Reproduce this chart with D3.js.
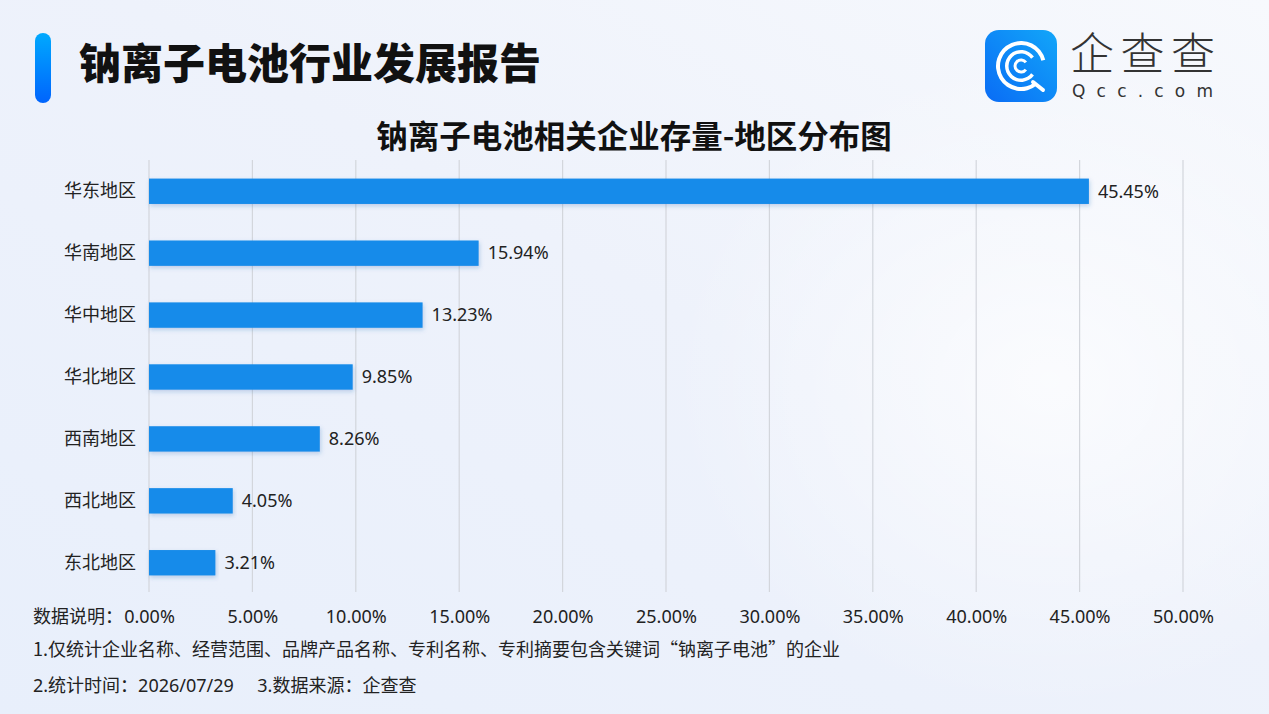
<!DOCTYPE html>
<html>
<head>
<meta charset="utf-8">
<script src="https://cdn.jsdelivr.net/npm/d3@7"></script>
<style>
  html, body { margin: 0; padding: 0; }
  body { width: 1269px; height: 714px; overflow: hidden; font-family: "Noto Sans", "Noto Sans CJK SC", sans-serif; }
</style>
</head>
<body>
<svg id="chart"></svg>
<script>
const regions = ["华东地区", "华南地区", "华中地区", "华北地区", "西南地区", "西北地区", "东北地区"];
const shares = [45.45, 15.94, 13.23, 9.85, 8.26, 4.05, 3.21];
const xTicks = [0, 5, 10, 15, 20, 25, 30, 35, 40, 45, 50];
const footnotes = [
  "1.仅统计企业名称、经营范围、品牌产品名称、专利名称、专利摘要包含关键词“钠离子电池”的企业",
  "2.统计时间：2026/07/29     3.数据来源：企查查"
];

const width = 1269;
const height = 714;
const plotLeft = 149, plotRight = 1183, plotTop = 160, plotBottom = 594;
const labelFont = "Noto Sans, Noto Sans CJK SC, sans-serif";
const cjkFont = "Noto Sans CJK SC, sans-serif";

const svg = d3.select("#chart").attr("width", width).attr("height", height);
const defs = svg.append("defs");

// background
const bg = defs.append("linearGradient").attr("id", "bg")
  .attr("x1", 0).attr("y1", 1).attr("x2", 1).attr("y2", 0);
bg.append("stop").attr("offset", "0%").attr("stop-color", "#e8effb");
bg.append("stop").attr("offset", "55%").attr("stop-color", "#eef2fb");
bg.append("stop").attr("offset", "100%").attr("stop-color", "#f7f9fd");
svg.append("rect").attr("width", width).attr("height", height).attr("fill", "url(#bg)");

const glow = defs.append("radialGradient").attr("id", "glow")
  .attr("cx", 0.5).attr("cy", 0.5).attr("r", 0.5);
glow.append("stop").attr("offset", "0%").attr("stop-color", "#ffffff").attr("stop-opacity", 0.7);
glow.append("stop").attr("offset", "100%").attr("stop-color", "#ffffff").attr("stop-opacity", 0);
svg.append("ellipse").attr("cx", 1050).attr("cy", 380).attr("rx", 380).attr("ry", 330).attr("fill", "url(#glow)");

// header pill
const pill = defs.append("linearGradient").attr("id", "pill")
  .attr("x1", 0).attr("y1", 0).attr("x2", 0).attr("y2", 1);
pill.append("stop").attr("offset", "0%").attr("stop-color", "#00a9fe");
pill.append("stop").attr("offset", "100%").attr("stop-color", "#0064fd");
svg.append("rect").attr("x", 35).attr("y", 33).attr("width", 16).attr("height", 70)
  .attr("rx", 8).attr("fill", "url(#pill)");

svg.append("text").attr("x", 79).attr("y", 64).attr("dy", "0.36em")
  .attr("font-family", cjkFont)
  .attr("font-size", 42).attr("font-weight", 900).attr("fill", "#111")
  .text("钠离子电池行业发展报告");

// logo
const logoG = defs.append("linearGradient").attr("id", "logo")
  .attr("x1", 0).attr("y1", 1).attr("x2", 1).attr("y2", 0);
logoG.append("stop").attr("offset", "0%").attr("stop-color", "#0a6cf5");
logoG.append("stop").attr("offset", "100%").attr("stop-color", "#12a6f9");
const logo = svg.append("g").attr("transform", "translate(985,30)");
logo.append("rect").attr("width", 72).attr("height", 72).attr("rx", 14).attr("fill", "url(#logo)");
const arc = d3.arc();
logo.append("path").attr("transform", "translate(36,36)")
  .attr("d", arc({ innerRadius: 21, outerRadius: 25, startAngle: Math.PI * 0.78, endAngle: Math.PI * 2.42 }))
  .attr("fill", "#fff");
logo.append("path").attr("transform", "translate(36,36)")
  .attr("d", arc({ innerRadius: 12.5, outerRadius: 16, startAngle: Math.PI * 0.7, endAngle: Math.PI * 2.3 }))
  .attr("fill", "#fff");
logo.append("path").attr("transform", "translate(36,36)")
  .attr("d", arc({ innerRadius: 4.5, outerRadius: 7.5, startAngle: Math.PI * 0.7, endAngle: Math.PI * 2.3 }))
  .attr("fill", "#fff");
logo.append("line").attr("x1", 48).attr("y1", 52).attr("x2", 58).attr("y2", 60)
  .attr("stroke", "#fff").attr("stroke-width", 4).attr("stroke-linecap", "round");

svg.append("text").attr("x", 1070).attr("y", 70)
  .attr("font-family", cjkFont)
  .attr("font-size", 44).attr("font-weight", 300).attr("fill", "#333")
  .attr("textLength", 145).attr("lengthAdjust", "spacing").text("企查查");
svg.append("text").attr("x", 1072).attr("y", 97)
  .attr("font-size", 17).attr("fill", "#333")
  .attr("font-family", "DejaVu Sans, sans-serif")
  .attr("textLength", 141).attr("lengthAdjust", "spacing").text("Qcc.com");

// chart title
svg.append("text").attr("x", 634).attr("y", 137).attr("dy", "0.36em").attr("text-anchor", "middle")
  .attr("font-family", cjkFont)
  .attr("font-size", 31.5).attr("font-weight", 700).attr("fill", "#111")
  .text("钠离子电池相关企业存量-地区分布图");

// scales
const x = d3.scaleLinear().domain([0, 50]).range([plotLeft, plotRight]);
const y = d3.scaleBand().domain(regions).range([plotTop, plotBottom]).paddingInner(0.59).paddingOuter(0.3);

// grid
svg.append("g").selectAll("line").data(xTicks).join("line")
  .attr("x1", d => x(d)).attr("x2", d => x(d))
  .attr("y1", plotTop).attr("y2", 592)
  .attr("stroke", "#d3d6dc").attr("stroke-width", 1.2);

// x axis labels
const xAxis = d3.axisBottom(x).tickValues(xTicks).tickSize(0).tickPadding(0)
  .tickFormat(d => d3.format(".2f")(d) + "%");
const xa = svg.append("g").attr("transform", "translate(0,617)").call(xAxis);
xa.select(".domain").remove();
xa.selectAll("text").attr("y", 0).attr("font-size", 18).attr("fill", "#222")
  .attr("font-family", labelFont).attr("dy", "0.35em");

svg.append("text").attr("x", 33).attr("y", 617).attr("dy", "0.35em")
  .attr("font-family", cjkFont)
  .attr("font-size", 18).attr("fill", "#222")
  .text("数据说明：");

// y axis labels
const yAxis = d3.axisLeft(y).tickSize(0).tickPadding(13);
const ya = svg.append("g").attr("transform", `translate(${plotLeft},0)`).call(yAxis);
ya.select(".domain").remove();
ya.selectAll("text").attr("font-size", 18).attr("fill", "#222")
  .attr("font-family", cjkFont);

// bars
const shadow = defs.append("filter").attr("id", "shadow")
  .attr("x", "-5%").attr("y", "-30%").attr("width", "110%").attr("height", "170%");
shadow.append("feDropShadow").attr("dx", 1).attr("dy", 2).attr("stdDeviation", 2)
  .attr("flood-color", "#1a5fb0").attr("flood-opacity", 0.25);

const data = regions.map((r, i) => ({ region: r, value: shares[i] }));
svg.append("g").selectAll("rect").data(data).join("rect")
  .attr("x", x(0)).attr("y", d => y(d.region))
  .attr("width", d => x(d.value) - x(0)).attr("height", y.bandwidth())
  .attr("fill", "#168bea").attr("filter", "url(#shadow)");

svg.append("g").selectAll("text").data(data).join("text")
  .attr("x", d => x(d.value) + 9).attr("y", d => y(d.region) + y.bandwidth() / 2)
  .attr("dy", "0.35em").attr("font-size", 18).attr("fill", "#222")
  .attr("font-family", labelFont)
  .text(d => d.value.toFixed(2) + "%");

// footnotes
svg.append("g").selectAll("text").data(footnotes).join("text")
  .attr("x", 33).attr("y", (d, i) => 650 + i * 36).attr("dy", "0.35em")
  .attr("font-size", 18).attr("fill", "#222")
  .attr("font-family", (d, i) => (i === 0 ? cjkFont : labelFont))
  .attr("xml:space", "preserve").style("white-space", "pre")
  .text(d => d);
</script>
</body>
</html>
